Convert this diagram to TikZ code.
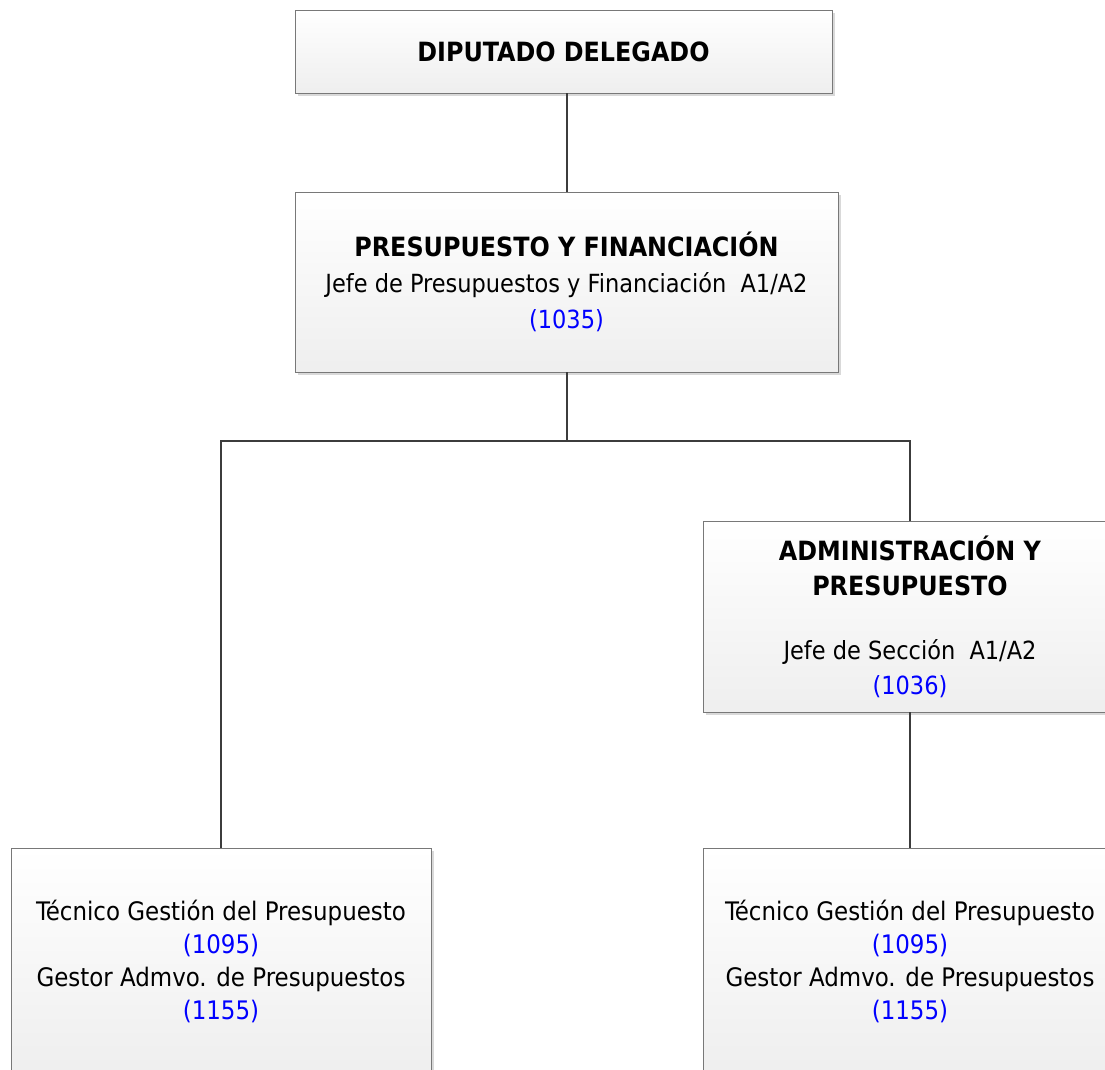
\documentclass[tikz,border=0pt]{standalone}
\usepackage{fontspec}
\setmainfont{DejaVu Sans Condensed}
\usetikzlibrary{shadows}
\definecolor{plazablue}{RGB}{0,0,255}
\definecolor{linegray}{RGB}{60,60,60}
\definecolor{boxgray}{RGB}{120,120,120}
\newcommand{\plaza}[1]{{\color{plazablue}(#1)}}
\newcommand{\unitname}[1]{{\fontsize{26.5}{36}\selectfont\bfseries #1}}
\tikzstyle{link} = [line width=2pt, draw=linegray]

\begin{document}
\begin{tikzpicture}[x=1pt, y=-1pt,
                    font=\fontsize{25}{36}\selectfont
                   ]

\tikzset{unit/.style = {rectangle, draw=boxgray, top color=white, bottom color=gray!13,
            drop shadow={shadow xshift=3pt, shadow yshift=-3pt, fill=black, opacity=0.15},
            align=center, inner sep=0pt},
         post/.style = {unit, minimum width=420pt, minimum height=226pt,
            font=\fontsize{25.5}{33}\selectfont}}

\useasboundingbox (0,0) rectangle (1105,1070);
\clip (0,0) rectangle (1105,1070);
\fill[white] (0,0) rectangle (1105,1070);

% units
\node[unit, minimum width=537pt, minimum height=83pt] (diputado) at (563.5,51.5)
    {\unitname{DIPUTADO DELEGADO}};
\node[unit, minimum width=543pt, minimum height=180pt] (presupuesto) at (566.5,282)
    {\unitname{PRESUPUESTO Y FINANCIACIÓN}\\ Jefe de Presupuestos y Financiación~~A1/A2\\ \plaza{1035}};
\node[unit, minimum width=414pt, minimum height=191pt,
      font=\fontsize{25}{35}\selectfont] (admin) at (910,616.5)
    {\unitname{ADMINISTRACIÓN Y}\\ \unitname{PRESUPUESTO}\\[29pt] Jefe de Sección~~A1/A2\\ \plaza{1036}};
\node[post] (tecnicoA) at (221,961)
    {Técnico Gestión del Presupuesto\\ \plaza{1095}\\ Gestor Admvo. de Presupuestos\\ \plaza{1155}};
\node[post, minimum width=414pt] (tecnicoB) at (910,961)
    {Técnico Gestión del Presupuesto\\ \plaza{1095}\\ Gestor Admvo. de Presupuestos\\ \plaza{1155}};

% connectors
\path (presupuesto.south) ++(0,69) coordinate (fork);
\draw[link] (diputado.south -| presupuesto.north) -- (presupuesto.north);
\draw[link] (presupuesto.south) -- (fork);
\draw[link] (tecnicoA.north) |- (fork) -| (admin.north);
\draw[link] (admin.south) -- (tecnicoB.north);

\end{tikzpicture}
\end{document}
